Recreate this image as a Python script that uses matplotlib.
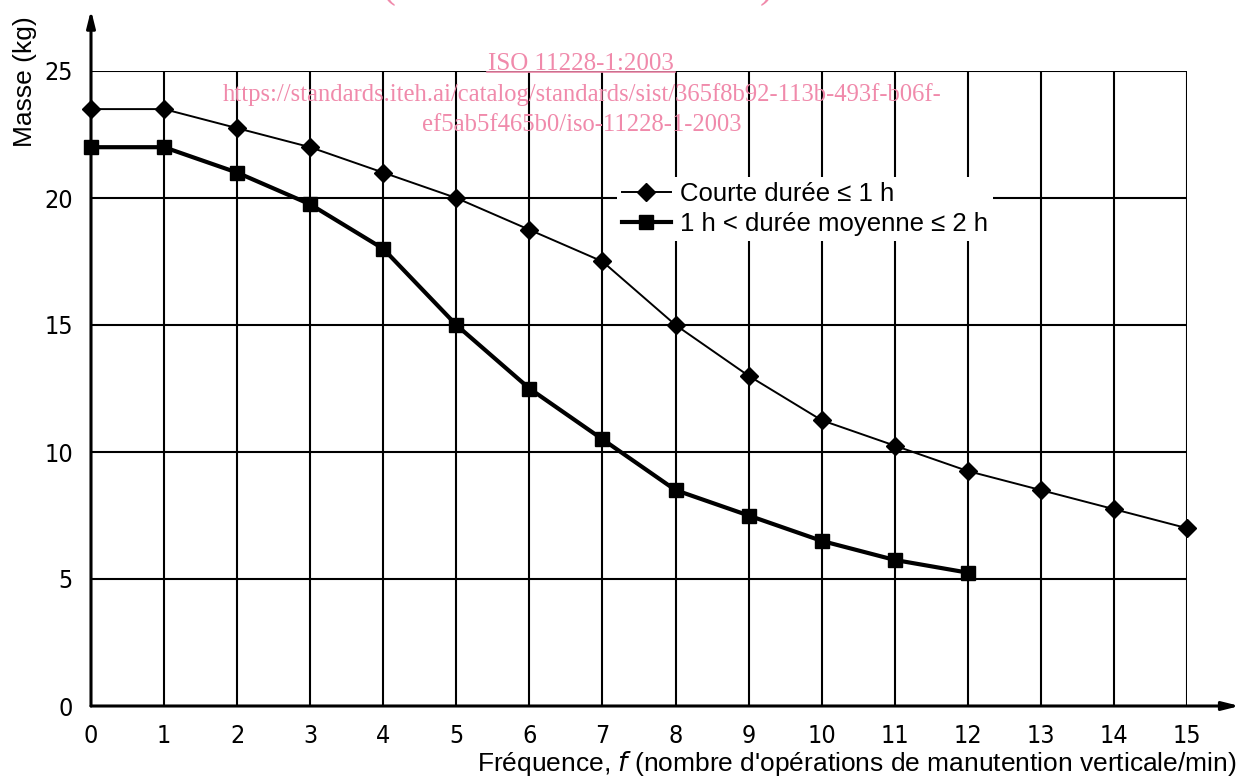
import matplotlib
matplotlib.use("Agg")
import matplotlib.pyplot as plt

plt.rcParams['font.family'] = ['Liberation Sans', 'DejaVu Sans']

# données
freq_courte = [0, 1, 2, 3, 4, 5, 6, 7, 8, 9, 10, 11, 12, 13, 14, 15]
masse_courte = [23.5, 23.5, 22.75, 22, 21, 20, 18.75, 17.5, 15, 13, 11.25, 10.25, 9.25, 8.5, 7.75, 7]
freq_moyenne = [0, 1, 2, 3, 4, 5, 6, 7, 8, 9, 10, 11, 12]
masse_moyenne = [22, 22, 21, 19.75, 18, 15, 12.5, 10.5, 8.5, 7.5, 6.5, 5.75, 5.25]

x_ticks = list(range(0, 16))
y_ticks = [0, 5, 10, 15, 20, 25]

label_courte = "Courte durée \u2264 1 h"
label_moyenne = "1 h < durée moyenne \u2264 2 h"
xlabel = "Fréquence, $f$ (nombre d'opérations de manutention verticale/min)"
ylabel = "Masse (kg)"

pink = '#f08aab'

W, H = 1252, 778
fig = plt.figure(figsize=(W / 100, H / 100), dpi=100)
ax = fig.add_axes([91 / W, (H - 706) / H, (1187 - 91) / W, (706 - 71) / H])
ax.set_xlim(0, 15)
ax.set_ylim(0, 25)

for s in ax.spines.values():
    s.set_visible(False)

# grille
for xv in x_ticks[1:]:
    ax.axvline(xv, color='black', lw=1.5, zorder=1)
for yv in y_ticks[1:]:
    ax.axhline(yv, color='black', lw=1.5, zorder=1)

# axes avec flèches
ax.annotate('', xy=(15.72, 0), xytext=(0, 0), xycoords='data',
            arrowprops=dict(arrowstyle='-|>,head_length=1.0,head_width=0.25', color='black', lw=2.2,
                            shrinkA=0, shrinkB=0),
            annotation_clip=False, zorder=3)
ax.annotate('', xy=(0, 27.4), xytext=(0, 0), xycoords='data',
            arrowprops=dict(arrowstyle='-|>,head_length=1.0,head_width=0.25', color='black', lw=2.2,
                            shrinkA=0, shrinkB=0),
            annotation_clip=False, zorder=3)

ax.plot(freq_courte, masse_courte, color='black', lw=1.4, marker='D', ms=9,
        label=label_courte, zorder=4, clip_on=False)
ax.plot(freq_moyenne, masse_moyenne, color='black', lw=3.0, marker='s', ms=9.5,
        label=label_moyenne, zorder=4, clip_on=False)

ax.set_xticks(x_ticks)
ax.set_yticks(y_ticks)
ax.set_xticklabels([str(v) for v in x_ticks], family='DejaVu Sans', stretch='condensed', fontsize=18)
ax.set_yticklabels([str(v) for v in y_ticks], family='DejaVu Sans', stretch='condensed', fontsize=18)
ax.tick_params(length=0, pad=13)

fig.text(25 / W, 1 - 82 / H, ylabel, rotation=90, ha='center', va='center', fontsize=19)
fig.text(1237 / W, 1 - 771 / H, xlabel, ha='right', va='baseline', fontsize=19)

leg = ax.legend(loc='upper left', bbox_to_anchor=(604 / W, 1 - 164 / H),
                bbox_transform=fig.transFigure, frameon=True, fancybox=False,
                edgecolor='none', facecolor='white', framealpha=1, fontsize=18.5,
                handlelength=1.9, handletextpad=0.35, borderpad=0.2, labelspacing=0.22)
leg.set_zorder(5)

# filigrane
fig.text(581 / W, 1 - 70 / H, "ISO 11228-1:2003", color=pink, family='Liberation Serif',
         fontsize=18, ha='center', va='baseline')
fig.add_artist(plt.Line2D([487 / W, 675 / W], [1 - 72 / H, 1 - 72 / H], color=pink, lw=1.2))
fig.text(582 / W, 1 - 101 / H,
         "https://standards.iteh.ai/catalog/standards/sist/365f8b92-113b-493f-b06f-",
         color=pink, family='Liberation Serif', fontsize=17.7, ha='center', va='baseline')
fig.text(582 / W, 1 - 131 / H, "ef5ab5f465b0/iso-11228-1-2003",
         color=pink, family='Liberation Serif', fontsize=17.7, ha='center', va='baseline')
fig.text(388 / W, 1 - 6 / H, "(", color=pink, family='Liberation Serif', fontsize=30,
         ha='center', va='bottom')
fig.text(767 / W, 1 - 6 / H, ")", color=pink, family='Liberation Serif', fontsize=30,
         ha='center', va='bottom')

fig.savefig('out.png', dpi=100)
